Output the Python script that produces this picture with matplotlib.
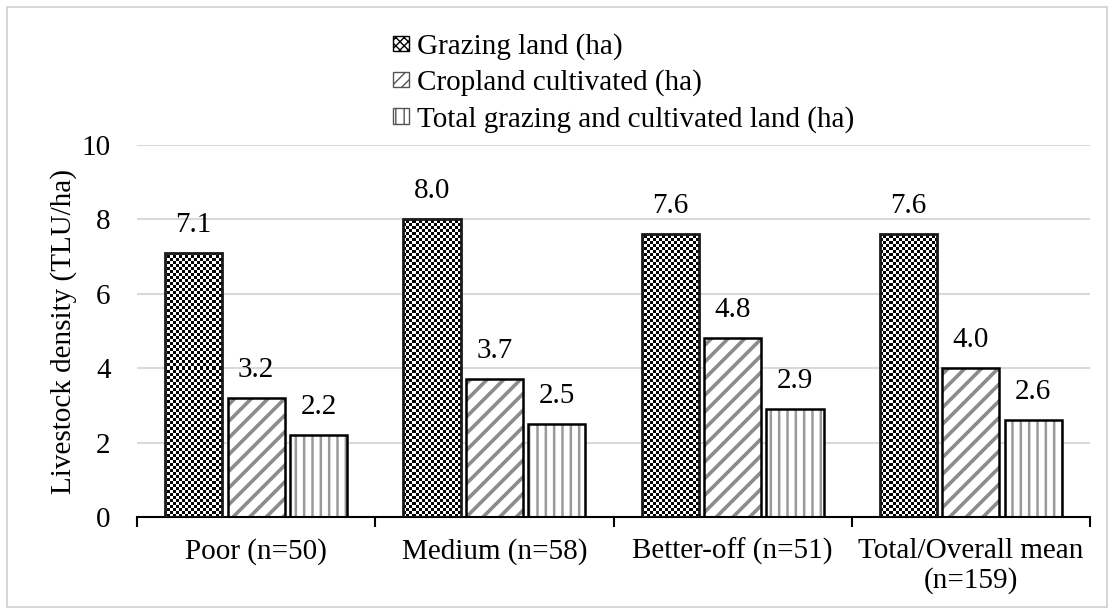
import numpy as np
import matplotlib
matplotlib.use("Agg")
import matplotlib.pyplot as plt
from matplotlib.patches import Patch, Rectangle

plt.rcParams["font.family"] = ["Liberation Serif", "DejaVu Serif"]

categories = ["Poor (n=50)", "Medium (n=58)", "Better-off (n=51)", "Total/Overall mean\n(n=159)"]
grazing = [7.1, 8.0, 7.6, 7.6]
cropland = [3.2, 3.7, 4.8, 4.0]
total = [2.2, 2.5, 2.9, 2.6]
series_names = ["Grazing land (ha)", "Cropland cultivated (ha)", "Total grazing and cultivated land (ha)"]

fs = 21
fig = plt.figure(figsize=(11.14, 6.14), dpi=100)
ax = fig.add_axes([137 / 1114, 1 - 517 / 614, 953 / 1114, 372 / 614])
fig.patches.append(Rectangle((7 / 1114, 7 / 614), 1100 / 1114, 600 / 614, transform=fig.transFigure,
                             fill=False, edgecolor="#d0d0d0", linewidth=1.2))

x = np.arange(len(categories))
w = 0.24
step = 0.262

# grazing: checkerboard clipped to each bar
g_bars = ax.bar(x - step, grazing, w, facecolor="white", edgecolor="none", zorder=2)
ny, nx = 124, 318
checker = np.indices((ny, nx)).sum(axis=0) % 2
for rect in g_bars:
    im = ax.imshow(checker, cmap="Greys", vmin=0, vmax=1, extent=(-0.5, 3.5, 0, 10),
                   aspect="auto", interpolation="nearest", zorder=2)
    im.set_clip_path(rect)
ax.bar(x - step, grazing, w, fill=False, edgecolor="#1a1a1a", linewidth=2, zorder=3)

# cropland: gray diagonal stripes
plt.rcParams["hatch.linewidth"] = 2.6
ax.bar(x, cropland, w, facecolor="white", edgecolor="#8c8c8c", hatch="//", linewidth=0, zorder=2)
ax.bar(x, cropland, w, fill=False, edgecolor="black", linewidth=1.8, zorder=3)

# total: gray vertical stripes
plt.rcParams["hatch.linewidth"] = 1.8
ax.bar(x + step, total, w, facecolor="white", edgecolor="#9a9a9a", hatch="||", linewidth=0, zorder=2)
ax.bar(x + step, total, w, fill=False, edgecolor="black", linewidth=1.8, zorder=3)

for offs, vals in [(-step, grazing), (0, cropland), (step, total)]:
    for xi, v in zip(x + offs, vals):
        ax.annotate(f"{v:.1f}", (xi, v), xytext=(0, 11), textcoords="offset points",
                    ha="center", va="bottom", fontsize=fs)

ax.set_xlim(-0.5, 3.5)
ax.set_ylim(0, 10)
ax.set_yticks(np.arange(0, 11, 2))
ax.yaxis.grid(True, color="#d9d9d9", linewidth=1.5)
ax.set_axisbelow(True)
ax.tick_params(axis="y", length=0, labelsize=fs, pad=19)
ax.set_xticks(x)
ax.set_xticklabels(categories, fontsize=fs, linespacing=1.15)
ax.tick_params(axis="x", which="major", length=0, pad=15)
ax.set_xticks(np.arange(-0.5, 4, 1), minor=True)
ax.tick_params(axis="x", which="minor", length=7, width=1.5, color="black")
for s in ["top", "right", "left"]:
    ax.spines[s].set_visible(False)
ax.spines["bottom"].set_linewidth(1.5)
ax.set_ylabel("Livestock density (TLU/ha)", fontsize=fs, labelpad=3)

plt.rcParams["hatch.linewidth"] = 1.0
handles = [
    Patch(facecolor="white", edgecolor="black", hatch="xxxx", linewidth=1),
    Patch(facecolor="white", edgecolor="#555555", hatch="///", linewidth=1),
    Patch(facecolor="white", edgecolor="#555555", hatch="||", linewidth=1),
]
fig.legend(handles, series_names, loc="upper left", bbox_to_anchor=(0.342, 0.965),
           frameon=False, fontsize=fs, handlelength=0.55, handleheight=0.45,
           handletextpad=0.3, labelspacing=0.32, borderaxespad=0)

fig.savefig("out.png", dpi=100)
